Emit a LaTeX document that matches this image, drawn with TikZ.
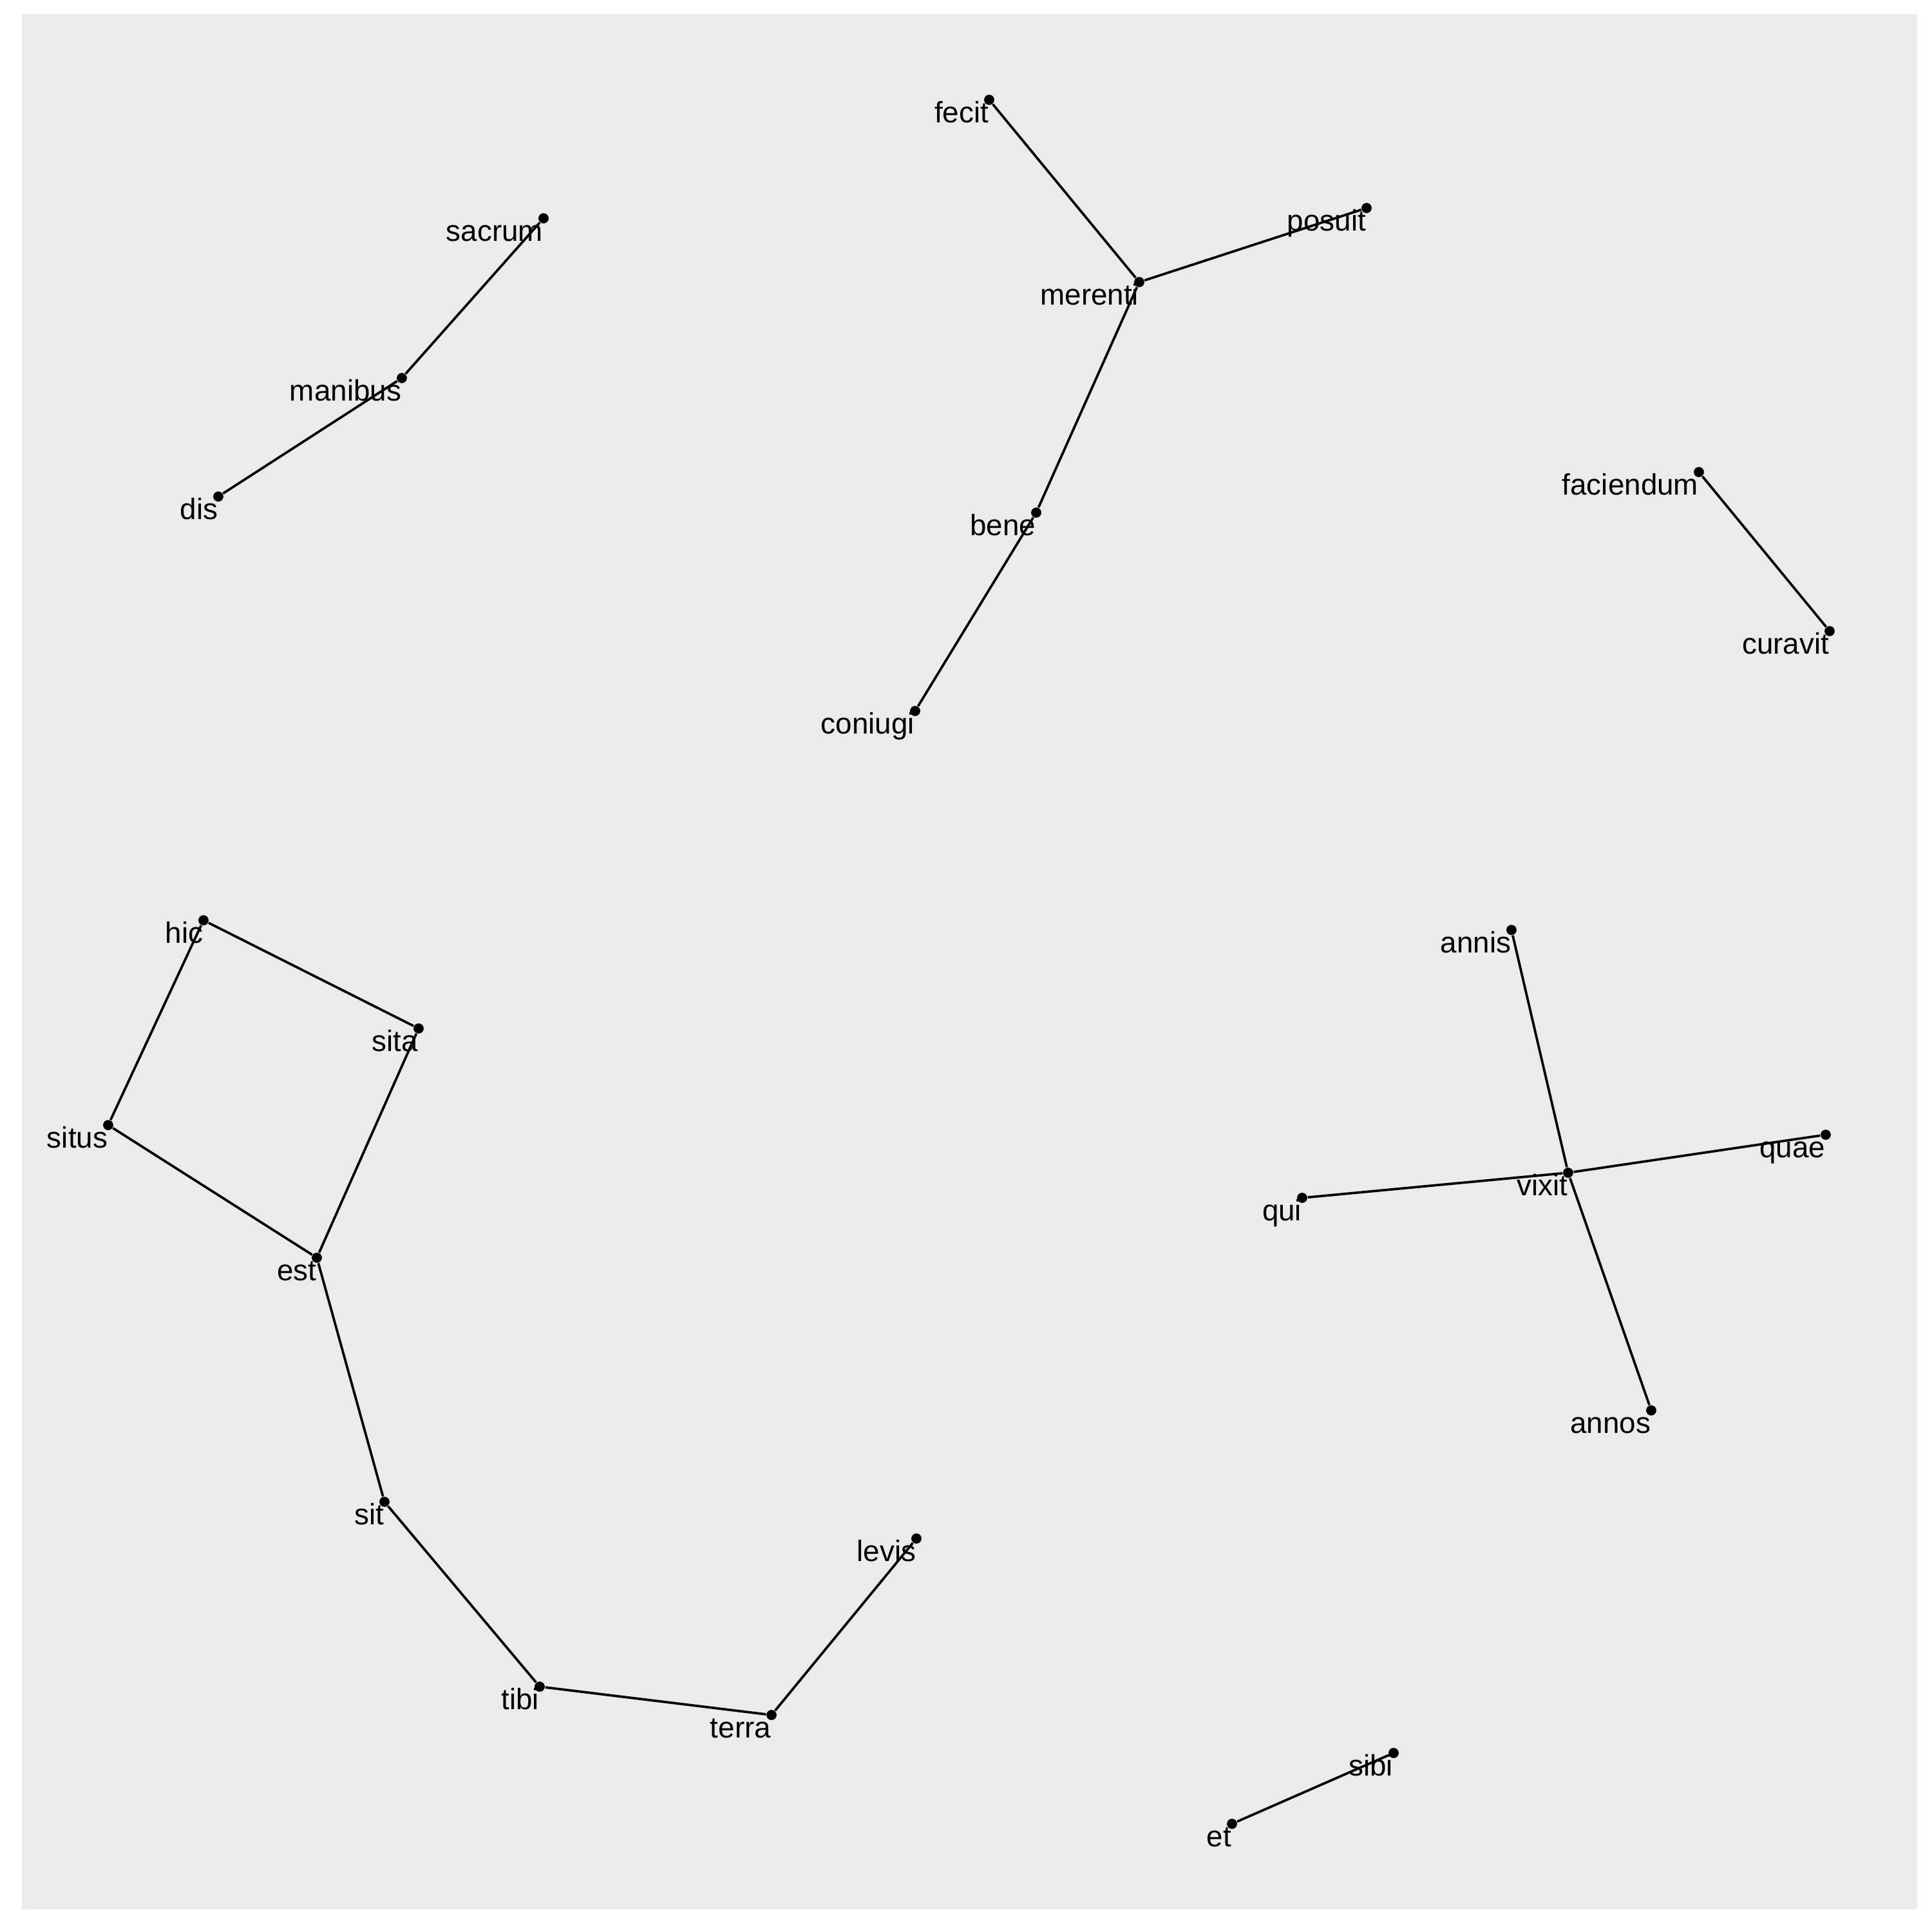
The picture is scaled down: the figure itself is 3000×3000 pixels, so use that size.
\documentclass[tikz,border=0pt]{standalone}
\usepackage{fontspec}
\setmainfont{Liberation Sans}
\usepackage{tikz}
\definecolor{panelgrey}{RGB}{235,235,235}

\begin{document}
\begin{tikzpicture}[x=0.24pt, y=-0.24pt,
    word/.style={circle, fill=black, inner sep=0pt, minimum size=3.8pt},
    tag/.style={anchor=base east, inner sep=0pt,
                font=\fontsize{11}{13}\selectfont, yshift=-6.5pt},
    link/.style={line width=0.9pt}]

  % page and panel
  \useasboundingbox (0,0) rectangle (3000,3000);
  \fill [panelgrey] (34,22) rectangle (2977,2965);

  % dis manibus sacrum
  \node (sacrum)  [word, label={[tag]south:sacrum}]  at (844,339) {};
  \node (manibus) [word, label={[tag]south:manibus}] at (624,587) {};
  \node (dis)     [word, label={[tag]south:dis}]     at (339,771) {};

  % bene merenti
  \node (fecit)   [word, label={[tag]south:fecit}]   at (1536,155) {};
  \node (posuit)  [word, label={[tag]south:posuit}]  at (2122,323) {};
  \node (merenti) [word, label={[tag]south:merenti}] at (1769,438) {};
  \node (bene)    [word, label={[tag]south:bene}]    at (1609,796) {};
  \node (coniugi) [word, label={[tag]south:coniugi}] at (1421,1104) {};

  % faciendum curavit
  \node (faciendum) [word, label={[tag]south:faciendum}] at (2638,733) {};
  \node (curavit)   [word, label={[tag]south:curavit}]   at (2841,980) {};

  % hic situs / sita est, sit tibi terra levis
  \node (hic)   [word, label={[tag]south:hic}]   at (316,1429) {};
  \node (sita)  [word, label={[tag]south:sita}]  at (650,1597) {};
  \node (situs) [word, label={[tag]south:situs}] at (168,1747) {};
  \node (est)   [word, label={[tag]south:est}]   at (492,1953) {};
  \node (sit)   [word, label={[tag]south:sit}]   at (597,2332) {};
  \node (tibi)  [word, label={[tag]south:tibi}]  at (838,2619) {};
  \node (terra) [word, label={[tag]south:terra}] at (1198,2663) {};
  \node (levis) [word, label={[tag]south:levis}] at (1423,2389) {};

  % qui vixit annos
  \node (annis) [word, label={[tag]south:annis}] at (2347,1444) {};
  \node (quae)  [word, label={[tag]south:quae}]  at (2835,1762) {};
  \node (vixit) [word, label={[tag]south:vixit}] at (2435,1821) {};
  \node (qui)   [word, label={[tag]south:qui}]   at (2022,1860) {};
  \node (annos) [word, label={[tag]south:annos}] at (2564,2190) {};

  % sibi et
  \node (sibi) [word, label={[tag]south:sibi}] at (2164,2722) {};
  \node (et)   [word, label={[tag]south:et}]   at (1913,2832) {};

  % edges
  \path [link]
    (sacrum) edge (manibus)
    (manibus) edge (dis)
    (fecit) edge (merenti)
    (merenti) edge (posuit)
              edge (bene)
    (bene) edge (coniugi)
    (faciendum) edge (curavit)
    (hic) edge (sita)
          edge (situs)
    (situs) edge (est)
    (sita) edge (est)
    (est) edge (sit)
    (sit) edge (tibi)
    (tibi) edge (terra)
    (terra) edge (levis)
    (annis) edge (vixit)
    (vixit) edge (annos)
            edge (qui)
            edge (quae)
    (sibi) edge (et)
    ;
\end{tikzpicture}
\end{document}
